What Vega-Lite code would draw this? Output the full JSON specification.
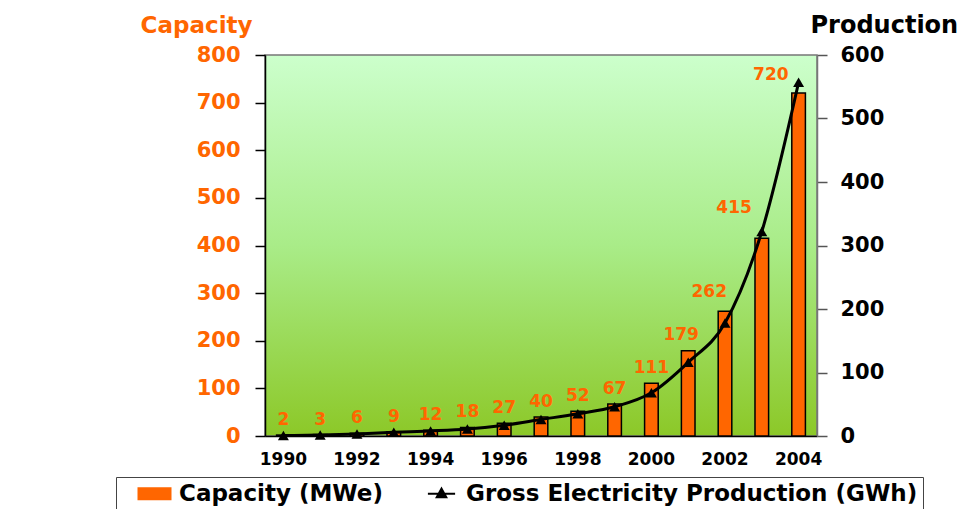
{
  "$schema": "https://vega.github.io/schema/vega-lite/v6.json",
  "width": 552,
  "height": 381,
  "autosize": {"type": "none"},
  "padding": {"left": 265, "top": 55, "right": 147, "bottom": 73},
  "background": "white",
  "config": {
    "font": "DejaVu Sans",
    "view": {
      "stroke": "#777777",
      "strokeWidth": 1.5,
      "fill": {
        "gradient": "linear",
        "x1": 0, "y1": 0, "x2": 0, "y2": 1,
        "stops": [
          {"offset": 0, "color": "#CCFFCC"},
          {"offset": 0.5, "color": "#A9EC88"},
          {"offset": 1, "color": "#8CC828"}
        ]
      }
    },
    "legend": {
      "title": null,
      "orient": "none",
      "legendX": -149,
      "legendY": 422,
      "direction": "horizontal",
      "labelFont": "DejaVu Sans",
      "labelFontSize": 23,
      "labelFontWeight": "bold",
      "labelColor": "black",
      "labelLimit": 700,
      "symbolSize": 256,
      "symbolOffset": 22,
      "labelOffset": 13,
      "columnPadding": 25,
      "padding": 5,
      "strokeColor": "#444444",
      "fillColor": "white",
      "symbolStrokeColor": "black",
      "symbolStrokeWidth": 2,
      "symbolOpacity": 1
    }
  },
  "data": {
    "values": [
      {"year": 1990, "capacity": 2, "production": 0.7},
      {"year": 1991, "capacity": 3, "production": 1.6},
      {"year": 1992, "capacity": 6, "production": 3.2},
      {"year": 1993, "capacity": 9, "production": 5.8},
      {"year": 1994, "capacity": 12, "production": 8},
      {"year": 1995, "capacity": 18, "production": 11},
      {"year": 1996, "capacity": 27, "production": 17},
      {"year": 1997, "capacity": 40, "production": 26},
      {"year": 1998, "capacity": 52, "production": 35},
      {"year": 1999, "capacity": 67, "production": 46},
      {"year": 2000, "capacity": 111, "production": 68},
      {"year": 2001, "capacity": 179, "production": 116},
      {"year": 2002, "capacity": 262, "production": 178},
      {"year": 2003, "capacity": 415, "production": 322},
      {"year": 2004, "capacity": 720, "production": 557}
    ]
  },
  "encoding": {
    "x": {
      "field": "year",
      "type": "ordinal",
      "scale": {"paddingInner": 0.63, "paddingOuter": 0.315},
      "axis": {
        "title": null,
        "labelAngle": 0,
        "ticks": false,
        "labelFontSize": 17,
        "labelFontWeight": "bold",
        "labelColor": "black",
        "labelPadding": 15,
        "domainColor": "black",
        "domainWidth": 1.5,
        "labelExpr": "datum.value % 2 == 0 ? datum.label : ''"
      }
    }
  },
  "layer": [
    {
      "encoding": {
        "y": {
          "field": "capacity",
          "type": "quantitative",
          "scale": {"domain": [0, 800], "nice": false},
          "axis": {
            "orient": "left",
            "title": "Capacity",
            "titleColor": "#FF6600",
            "titleFontSize": 23,
            "titleFontWeight": "bold",
            "titleAngle": 0,
            "titleAlign": "right",
            "titleBaseline": "alphabetic",
            "titleX": -13,
            "titleY": -23,
            "values": [0, 100, 200, 300, 400, 500, 600, 700, 800],
            "labelColor": "#FF6600",
            "labelFontSize": 21,
            "labelFontWeight": "bold",
            "labelPadding": 15,
            "labelFlush": false,
            "tickSize": 10,
            "tickColor": "black",
            "tickWidth": 1.5,
            "domainColor": "black",
            "domainWidth": 1.5,
            "grid": false
          }
        }
      },
      "layer": [
        {
          "mark": {"type": "bar", "stroke": "black", "strokeWidth": 1.5},
          "encoding": {
            "color": {
              "datum": "Capacity (MWe)",
              "type": "nominal",
              "scale": {
                "domain": ["Capacity (MWe)", "Gross Electricity Production (GWh)"],
                "range": ["#FF6600", "#000000"]
              },
              "legend": {
                "symbolType": {"expr": "datum.value == 'Capacity (MWe)' ? 'M-2,-0.7H2V0.7H-2Z' : 'M-1.7,0H1.7M-0.6,0.45L0,-0.65L0.6,0.45Z'"}
              }
            }
          }
        },
        {
          "transform": [{"filter": "datum.year <= 2000"}],
          "mark": {"type": "text", "color": "#FF6600", "fontSize": 17, "fontWeight": "bold", "align": "center", "baseline": "alphabetic", "dy": -10},
          "encoding": {"text": {"field": "capacity", "type": "quantitative"}}
        },
        {
          "transform": [{"filter": "datum.year == 2001"}],
          "mark": {"type": "text", "color": "#FF6600", "fontSize": 17, "fontWeight": "bold", "align": "center", "baseline": "alphabetic", "dx": -7, "dy": -11},
          "encoding": {"text": {"field": "capacity", "type": "quantitative"}}
        },
        {
          "transform": [{"filter": "datum.year == 2002"}],
          "mark": {"type": "text", "color": "#FF6600", "fontSize": 17, "fontWeight": "bold", "align": "right", "baseline": "alphabetic", "dx": 2, "dy": -14},
          "encoding": {"text": {"field": "capacity", "type": "quantitative"}}
        },
        {
          "transform": [{"filter": "datum.year == 2003"}],
          "mark": {"type": "text", "color": "#FF6600", "fontSize": 17, "fontWeight": "bold", "align": "right", "baseline": "alphabetic", "dx": -10, "dy": -25},
          "encoding": {"text": {"field": "capacity", "type": "quantitative"}}
        },
        {
          "transform": [{"filter": "datum.year == 2004"}],
          "mark": {"type": "text", "color": "#FF6600", "fontSize": 17, "fontWeight": "bold", "align": "right", "baseline": "alphabetic", "dx": -10, "dy": -13},
          "encoding": {"text": {"field": "capacity", "type": "quantitative"}}
        }
      ]
    },
    {
      "mark": {
        "type": "line",
        "interpolate": "monotone",
        "strokeWidth": 3,
        "point": {"shape": "triangle-up", "size": 120, "filled": true}
      },
      "encoding": {
        "y": {
          "field": "production",
          "type": "quantitative",
          "scale": {"domain": [0, 600], "nice": false},
          "axis": {
            "orient": "right",
            "title": "Production",
            "titleColor": "black",
            "titleFontSize": 24,
            "titleFontWeight": "bold",
            "titleAngle": 0,
            "titleAlign": "left",
            "titleBaseline": "alphabetic",
            "titleX": -7,
            "titleY": -23,
            "values": [0, 100, 200, 300, 400, 500, 600],
            "labelColor": "black",
            "labelFontSize": 21,
            "labelFontWeight": "bold",
            "labelPadding": 13,
            "labelFlush": false,
            "tickSize": 10,
            "tickColor": "#555555",
            "tickWidth": 1.5,
            "domainColor": "#777777",
            "domainWidth": 1.5,
            "grid": false
          }
        },
        "color": {
          "datum": "Gross Electricity Production (GWh)",
          "type": "nominal",
          "legend": {
            "symbolType": {"expr": "datum.value == 'Capacity (MWe)' ? 'M-2,-0.7H2V0.7H-2Z' : 'M-1.7,0H1.7M-0.6,0.45L0,-0.65L0.6,0.45Z'"}
          }
        }
      }
    }
  ],
  "resolve": {"scale": {"y": "independent"}}
}
